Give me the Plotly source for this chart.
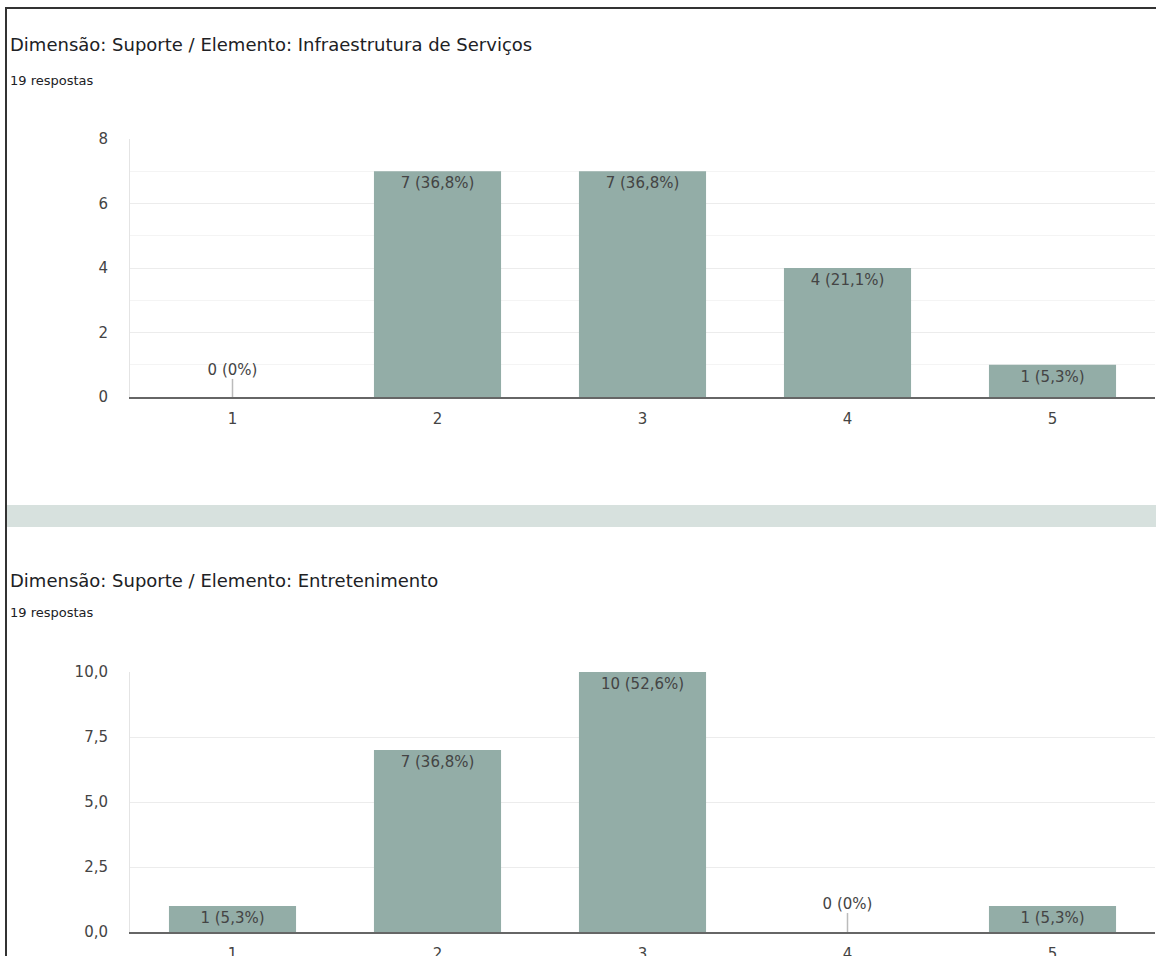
import plotly.graph_objects as go

W, H = 1156, 956

categories = [1, 2, 3, 4, 5]
title_top = "Dimensão: Suporte / Elemento: Infraestrutura de Serviços"
title_bottom = "Dimensão: Suporte / Elemento: Entretenimento"
subtitle = "19 respostas"
total_responses = 19
counts_top = [0, 7, 7, 4, 1]
counts_bottom = [1, 7, 10, 0, 1]

BAR_COLOR = "#93ada7"
TEXT_COLOR = "#444444"
FONT = "DejaVu Sans"


def px_x(p):
    return p / W


def px_y(p):
    return 1 - p / H


def label(v):
    pct = v / total_responses * 100
    if v == 0:
        return "0 (0%)"
    return f"{v} ({pct:.1f}%)".replace(".", ",")


fig = go.Figure()


def add_chart(counts, xa, ya, zero_h):
    texts_in = [label(v) if v > 0 else "" for v in counts]
    fig.add_trace(go.Bar(
        x=categories, y=counts, width=0.62,
        marker=dict(color=BAR_COLOR, line=dict(width=0)),
        text=texts_in, textposition="inside", insidetextanchor="end",
        textangle=0, constraintext="none",
        textfont=dict(family=FONT, size=15, color=TEXT_COLOR),
        xaxis=xa, yaxis=ya, showlegend=False, hoverinfo="skip",
    ))
    zx = [c for c, v in zip(categories, counts) if v == 0]
    for c in zx:
        fig.add_trace(go.Scatter(
            x=[c, c], y=[0, zero_h], mode="lines",
            line=dict(color="#bbbbbb", width=1.5),
            xaxis=xa, yaxis=ya, showlegend=False, hoverinfo="skip",
        ))
        fig.add_trace(go.Scatter(
            x=[c], y=[zero_h], mode="text", text=[label(0)],
            textposition="top center",
            textfont=dict(family=FONT, size=15, color=TEXT_COLOR),
            xaxis=xa, yaxis=ya, showlegend=False, hoverinfo="skip",
        ))


add_chart(counts_top, "x", "y", 0.56)
add_chart(counts_bottom, "x2", "y2", 0.73)

xdom = [px_x(130), px_x(1155)]
xcommon = dict(
    range=[0.5, 5.5], tickvals=categories, ticktext=[str(c) for c in categories],
    showgrid=False, zeroline=False, showline=True, linecolor="#666666", linewidth=1.5,
    tickfont=dict(family=FONT, size=15, color=TEXT_COLOR), ticks="",
    ticklabelstandoff=7, fixedrange=True, automargin=False,
)
fig.update_layout(
    width=W, height=H, margin=dict(l=0, r=0, t=0, b=0, autoexpand=False),
    paper_bgcolor="white", plot_bgcolor="white", separators=",.",
    bargap=0.38,
    xaxis=dict(domain=xdom, anchor="y", **xcommon),
    xaxis2=dict(domain=xdom, anchor="y2", **xcommon),
    yaxis=dict(
        domain=[px_y(397), px_y(139)], anchor="x", range=[0, 8], dtick=2,
        tickformat="d", showgrid=True, gridcolor="#ececec", gridwidth=1,
        minor=dict(dtick=1, showgrid=True, gridcolor="#f4f4f4", gridwidth=1),
        zeroline=False, showline=True, linecolor="#e4e4e4", linewidth=1,
        tickfont=dict(family=FONT, size=15, color=TEXT_COLOR),
        ticklabelstandoff=18, fixedrange=True, automargin=False,
    ),
    yaxis2=dict(
        domain=[px_y(932), px_y(672)], anchor="x2", range=[0, 10], dtick=2.5,
        tickformat=".1f", showgrid=True, gridcolor="#ececec", gridwidth=1,
        zeroline=False, showline=True, linecolor="#e4e4e4", linewidth=1,
        tickfont=dict(family=FONT, size=15, color=TEXT_COLOR),
        ticklabelstandoff=18, fixedrange=True, automargin=False,
    ),
)

# frame, separator band
fig.add_shape(type="line", xref="paper", yref="paper",
              x0=px_x(5), x1=1, y0=px_y(8), y1=px_y(8),
              line=dict(color="#333333", width=2))
fig.add_shape(type="line", xref="paper", yref="paper",
              x0=px_x(6), x1=px_x(6), y0=px_y(8), y1=0,
              line=dict(color="#333333", width=2))
fig.add_shape(type="rect", xref="paper", yref="paper",
              x0=px_x(6), x1=1, y0=px_y(527), y1=px_y(505),
              fillcolor="#d7e1de", line=dict(width=0), layer="below")

for t, y, size in [(title_top, 45, 18), (subtitle, 80, 13),
                   (title_bottom, 580, 18), (subtitle, 612, 13)]:
    fig.add_annotation(text=t, xref="paper", yref="paper",
                       x=px_x(8), y=px_y(y), xanchor="left", yanchor="middle",
                       showarrow=False,
                       font=dict(family=FONT, size=size, color="#202124"))

fig.write_html("out.html")
